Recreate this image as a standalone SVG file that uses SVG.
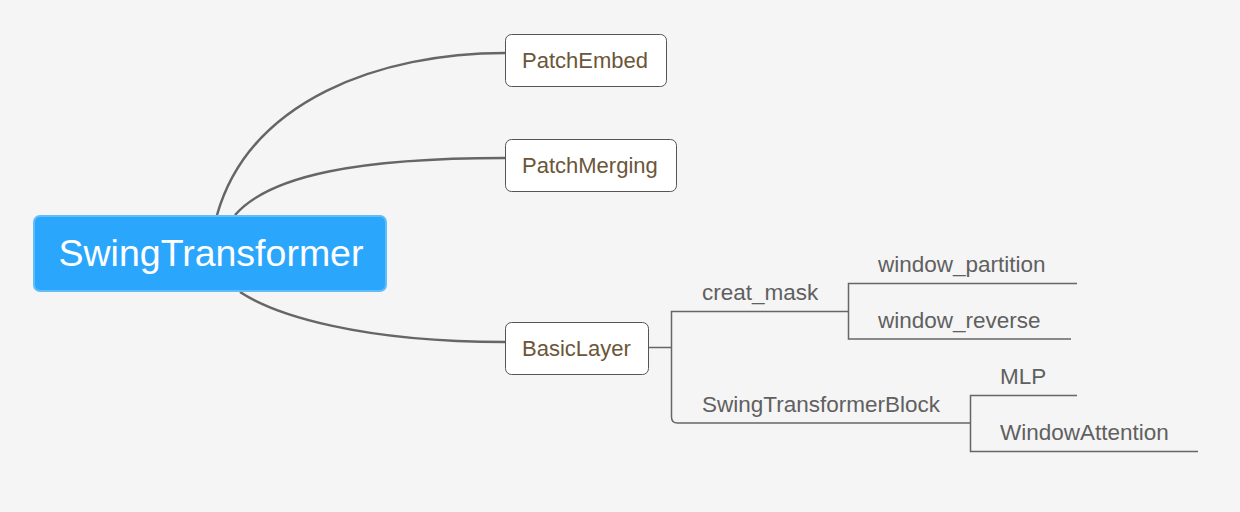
<svg xmlns="http://www.w3.org/2000/svg" width="1240" height="512" viewBox="0 0 1240 512">
<style>
.bg{fill:#f5f5f5}
.box{fill:#ffffff;stroke:#555555;stroke-width:1}
.nt{font-family:"Liberation Sans",Arial,sans-serif;font-size:22px;fill:#6b5638}
.st{font-family:"Liberation Sans",Arial,sans-serif;font-size:22.5px;fill:#606060}
.curve{fill:none;stroke:#666666;stroke-width:2.5}
.line{fill:none;stroke:#666666;stroke-width:1.5}
</style>
<rect class="bg" x="0" y="0" width="1240" height="512"/>
<g id="connectors">
<path class="curve" d="M217,215 C250,100 380,53 505,53"/>
<path class="curve" d="M235,215 C270,175 360,158 505,158"/>
<path class="curve" d="M240,292 C275,315 360,342 505,342"/>
<path class="line" d="M648,347.5 H671.5"/>
<path class="line" d="M848,311.5 H671.5 V417 Q671.5,423 677.5,423 H970"/>
<path class="line" d="M1077,283.5 H848.5 V339 H1071"/>
<path class="line" d="M1077,395.5 H970.5 V451.5 H1198"/>
</g>
<g id="root">
<rect x="34" y="216" width="352" height="75" rx="6" fill="#2ba6fd" stroke="#5fbdfa" stroke-width="2"/>
<text x="211" y="266" text-anchor="middle" font-family="Liberation Sans,Arial,sans-serif" font-size="37.5" fill="#ffffff">SwingTransformer</text>
</g>
<g id="patchembed">
<rect class="box" x="505.5" y="34.5" width="161" height="52" rx="6"/>
<text class="nt" x="522" y="68">PatchEmbed</text>
</g>
<g id="patchmerging">
<rect class="box" x="505.5" y="139.5" width="171" height="52" rx="6"/>
<text class="nt" x="522" y="173">PatchMerging</text>
</g>
<g id="basiclayer">
<rect class="box" x="505.5" y="322.5" width="143" height="52" rx="6"/>
<text class="nt" x="522" y="356">BasicLayer</text>
</g>
<g id="creat_mask"><text class="st" x="702" y="300">creat_mask</text></g>
<g id="window_partition"><text class="st" x="878" y="272">window_partition</text></g>
<g id="window_reverse"><text class="st" x="878" y="328">window_reverse</text></g>
<g id="swingtransformerblock"><text class="st" x="702" y="412">SwingTransformerBlock</text></g>
<g id="mlp"><text class="st" x="1000" y="384">MLP</text></g>
<g id="windowattention"><text class="st" x="1000" y="440">WindowAttention</text></g>
</svg>
